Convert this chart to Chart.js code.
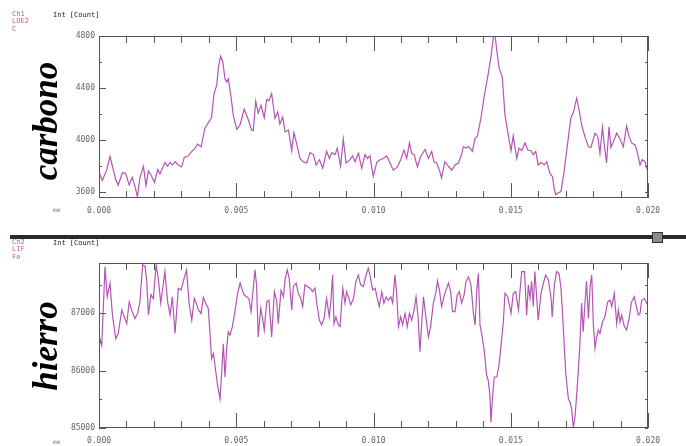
<!DOCTYPE html>
<html>
<head>
<meta charset="utf-8">
<script src="https://cdn.jsdelivr.net/npm/chart.js@4/dist/chart.umd.min.js"></script>
<style>
  body { margin: 0; background: #fff; }
  #wrap { position: relative; width: 686px; height: 446px; overflow: hidden; font-family: "DejaVu Sans Mono", monospace; }
  canvas { position: absolute; left: 0; }
  .ch { position: absolute; left: 12px; font-size: 7px; line-height: 7.4px; color: #c0589f; }
  .unit { position: absolute; left: 53px; font-size: 7px; color: #222; }
  .mm { position: absolute; left: 53px; font-size: 6px; color: #777; }
  .big { position: absolute; font-family: "Liberation Serif", serif; font-weight: bold; font-style: italic;
         font-size: 35px; line-height: 35px; white-space: nowrap; color: #000;
         transform: translate(-50%, -50%) rotate(-90deg); }
  #bar { position: absolute; left: 10px; top: 235px; width: 676px; height: 4px; background: #2a2a2a; }
  #knob { position: absolute; left: 652px; top: 232px; width: 9px; height: 9px; background: #8a8a8a; border: 1px solid #333; }
</style>
</head>
<body>
<div id="wrap">
  <canvas id="carbonChart" width="686" height="232" style="top:0"></canvas>
  <canvas id="hierroChart" width="686" height="206" style="top:240px"></canvas>

  <div class="ch" style="top:11px">Ch1<br>LOE2<br>C</div>
  <div class="unit" style="top:11px">Int [Count]</div>
  <div class="mm" style="top:206px">mm</div>
  <div class="big" style="left:45px; top:121px">carbono</div>

  <div id="bar"></div>
  <div id="knob"></div>

  <div class="ch" style="top:239px">Ch2<br>LIF<br>Fe</div>
  <div class="unit" style="top:239px">Int [Count]</div>
  <div class="mm" style="top:438px">mm</div>
  <div class="big" style="left:45px; top:346px">hierro</div>
</div>

<script>
// position along the scan in micrometres (axis shows mm)
const xTicks = [0, 5, 10, 15, 20];

const carbonPos = [0, 0.04, 0.12, 0.28, 0.40, 0.49, 0.61, 0.70, 0.85, 0.97, 1.10, 1.21, 1.31, 1.40, 1.49, 1.62, 1.71, 1.80, 1.89,
  2.02, 2.14, 2.22, 2.40, 2.50, 2.59, 2.68, 2.77, 2.89, 3.01, 3.11, 3.23, 3.38, 3.50, 3.59, 3.72, 3.86, 3.98, 4.10, 4.19,
  4.29, 4.35, 4.43, 4.51, 4.59, 4.65, 4.71, 4.81, 4.89, 5.02, 5.14, 5.29, 5.42, 5.56, 5.62, 5.71, 5.80, 5.90, 6.02, 6.11,
  6.19, 6.29, 6.41, 6.51, 6.59, 6.69, 6.78, 6.90, 7.02, 7.10, 7.20, 7.32, 7.44, 7.57, 7.69, 7.81, 7.91, 8.03, 8.15, 8.29,
  8.39, 8.48, 8.60, 8.68, 8.80, 8.90, 9.00, 9.12, 9.24, 9.33, 9.45, 9.57, 9.69, 9.78, 9.87, 9.99, 10.12, 10.24, 10.36,
  10.48, 10.60, 10.72, 10.87, 10.99, 11.11, 11.21, 11.31, 11.39, 11.48, 11.60, 11.72, 11.88, 12.00, 12.12, 12.20, 12.30,
  12.40, 12.48, 12.60, 12.73, 12.85, 12.97, 13.09, 13.21, 13.27, 13.37, 13.47, 13.60, 13.70, 13.79, 13.92, 14.04, 14.16,
  14.28, 14.37, 14.43, 14.49, 14.58, 14.69, 14.79, 14.91, 15.01, 15.09, 15.22, 15.30, 15.40, 15.52, 15.62, 15.74, 15.82,
  15.91, 16.00, 16.10, 16.22, 16.31, 16.43, 16.52, 16.59, 16.64, 16.73, 16.83, 16.95, 17.07, 17.19, 17.29, 17.40, 17.49,
  17.58, 17.70, 17.83, 17.92, 18.07, 18.17, 18.25, 18.34, 18.41, 18.49, 18.58, 18.65, 18.74, 18.86, 18.98, 19.10, 19.22,
  19.31, 19.40, 19.53, 19.62, 19.71, 19.79, 19.89, 19.99];
const carbonCount = [3740, 3730, 3685, 3765, 3870, 3795, 3690, 3650, 3745, 3740, 3650, 3710, 3640, 3560, 3705, 3795, 3645, 3760, 3730,
  3670, 3770, 3735, 3825, 3795, 3825, 3805, 3830, 3805, 3790, 3865, 3870, 3910, 3935, 3965, 3945, 4090, 4130, 4170, 4355,
  4420, 4560, 4645, 4600, 4470, 4445, 4470, 4330, 4190, 4080, 4115, 4235, 4165, 4075, 4070, 4295, 4205, 4265, 4170, 4310,
  4300, 4355, 4165, 4215, 4120, 4175, 4060, 4075, 3915, 4055, 3970, 3855, 3830, 3820, 3900, 3885, 3805, 3845, 3780, 3910,
  3855, 3900, 3885, 3935, 3795, 4005, 3820, 3840, 3875, 3830, 3895, 3780, 3885, 3855, 3875, 3715, 3825, 3845, 3855,
  3875, 3820, 3765, 3790, 3845, 3920, 3855, 3975, 3895, 3885, 3790, 3870, 3925, 3855, 3910, 3830, 3820,
  3765, 3705, 3830, 3795, 3765, 3805, 3820, 3885, 3945, 3935, 3947, 3910, 4010, 4030, 4175, 4345, 4485,
  4640, 4795, 4805, 4690, 4550, 4485, 4190, 4035, 3915, 4030, 3855, 3935, 3915, 3975, 3920, 3915, 3885,
  3910, 3805, 3825, 3805, 3830, 3740, 3715, 3615, 3575, 3590, 3600, 3765, 3970, 4170, 4215, 4320, 4230,
  4115, 4025, 3945, 3940, 4050, 4025, 3895, 4095, 3960, 3820, 4100, 3940, 3985, 4050, 4005, 3945, 4105,
  4025, 3975, 3960, 3895, 3805, 3845, 3830, 3755];
const carbonTicks = [3600, 4000, 4400, 4800];

const hierroPos = [0.00, 0.10, 0.22, 0.30, 0.40, 0.49, 0.61, 0.70, 0.83, 0.92, 1.01, 1.10, 1.21, 1.31, 1.41, 1.49, 1.59, 1.68, 1.74,
  1.80, 1.89, 1.98, 2.08, 2.16, 2.25, 2.34, 2.40, 2.50, 2.59, 2.67, 2.77, 2.89, 2.99, 3.07, 3.19, 3.28, 3.38, 3.47, 3.56,
  3.62, 3.72, 3.80, 3.90, 3.98, 4.04, 4.10, 4.17, 4.25, 4.32, 4.41, 4.47, 4.53, 4.59, 4.65, 4.71, 4.77, 4.86, 4.95, 5.05,
  5.14, 5.20, 5.29, 5.38, 5.46, 5.54, 5.62, 5.68, 5.74, 5.80, 5.89, 5.96, 6.02, 6.11, 6.19, 6.29, 6.39, 6.47, 6.53, 6.63,
  6.72, 6.78, 6.86, 6.93, 7.02, 7.08, 7.18, 7.26, 7.35, 7.42, 7.50, 7.59, 7.69, 7.78, 7.87, 7.95, 8.03, 8.11, 8.20, 8.29,
  8.39, 8.45, 8.51, 8.56, 8.63, 8.72, 8.78, 8.88, 8.96, 9.02, 9.08, 9.17, 9.27, 9.36, 9.45, 9.53, 9.63, 9.73, 9.81, 9.87,
  9.97, 10.06, 10.14, 10.21, 10.30, 10.38, 10.46, 10.54, 10.63, 10.70, 10.78, 10.84, 10.91, 10.99, 11.06, 11.15, 11.23,
  11.31, 11.39, 11.48, 11.55, 11.63, 11.69, 11.76, 11.82, 11.90, 12.00, 12.08, 12.18, 12.28, 12.33, 12.40, 12.48, 12.60,
  12.73, 12.81, 12.88, 12.97, 13.05, 13.13, 13.21, 13.30, 13.37, 13.46, 13.55, 13.64, 13.70, 13.76, 13.82, 13.88, 13.96,
  14.04, 14.12, 14.18, 14.24, 14.28, 14.34, 14.40, 14.49, 14.57, 14.67, 14.73, 14.79, 14.89, 14.95, 15.01, 15.09, 15.18,
  15.28, 15.34, 15.40, 15.50, 15.58, 15.64, 15.70, 15.76, 15.82, 15.88, 15.94, 16.00, 16.10, 16.19, 16.27, 16.37, 16.47,
  16.51, 16.59, 16.67, 16.76, 16.83, 16.88, 16.95, 17.01, 17.10, 17.16, 17.22, 17.28, 17.34, 17.40, 17.46, 17.52, 17.58,
  17.64, 17.70, 17.76, 17.83, 17.89, 17.95, 18.01, 18.07, 18.13, 18.19, 18.25, 18.34, 18.43, 18.53, 18.62, 18.68, 18.77,
  18.86, 18.92, 18.98, 19.04, 19.14, 19.22, 19.31, 19.40, 19.50, 19.59, 19.65, 19.71, 19.77, 19.87, 19.95, 20.00];
const hierroCount = [86620, 86440, 87820, 87290, 87530, 86970, 86560, 86650, 87060, 86940, 86820, 87200, 87030, 86910, 87000, 87200, 87850, 87820, 87560,
  86970, 87330, 87260, 87850, 87610, 87180, 87500, 87730, 87200, 86970, 87290, 86650, 87440, 87410, 87560, 87760, 87180, 86880, 87260, 87150,
  87060, 87000, 87280, 87160, 87090, 86680, 86210, 86300, 86000, 85740, 85510, 85980, 86470, 85890, 86390, 86680, 86620, 86770, 87030, 87350,
  87530, 87440, 87320, 87290, 87260, 87030, 87440, 87760, 87500, 86590, 87090, 86910, 86710, 87200, 87230, 86590, 87380, 87230, 86820, 87400,
  87290, 87600, 87760, 87610, 87060, 87470, 87530, 87350, 87260, 87120, 87500, 87470, 87440, 87380, 87440, 87120, 86880, 86800, 86910, 87260,
  86940, 87230, 87670, 86820, 86940, 86800, 86770, 87440, 87180, 87380, 87290, 87150, 87260, 87560, 87670, 87500, 87470, 87670, 87790, 87670,
  87410, 87440, 87260, 87120, 87380, 87180, 87290, 87230, 87290, 87180, 87670, 87380, 86770, 86940, 86800, 87000, 86770,
  87000, 86880, 87060, 87290, 86910, 86330, 86850, 87290, 86970, 86590, 86770, 87180, 87380, 87570, 87410, 87120, 87350,
  87530, 87380, 87030, 87030, 87320, 87380, 87180, 87320, 87560, 87640, 87500, 87000, 86800, 87380, 87700, 86800, 86590,
  86330, 85920, 85830, 85570, 85100, 85570, 85890, 85890, 86090, 86560, 86850, 87350, 87290, 87150, 87000, 87350, 87380,
  87060, 87410, 87730, 87730, 86970, 87500, 87260, 87560, 87120, 87730, 87320, 86880, 87350, 87530, 87670, 87590, 87260,
  86940, 87500, 87730, 87700, 87440, 87060, 86420, 85920, 85510, 85450, 85330, 85010, 85190, 85570, 85980, 86470, 87180,
  86680, 87150, 87560, 86910, 87470, 87670, 86800, 86390, 86590, 86710, 86650, 86850, 86940, 87200, 87230, 87120, 87350,
  86820, 87060, 86850, 86970, 86770, 86710, 86910, 87200, 87290, 87090, 86970, 87000, 87230, 87260, 87180, 87150];
const hierroTicks = [85000, 86000, 87000];

const lineColor = '#b455b4';
const axisColor = '#555';
const labelFont = { family: 'DejaVu Sans Mono', size: 8 };

// frame and inward tick marks, like the instrument plot
function framePlugin(minorStep, majorTicks) {
    return {
        id: 'frame',
        afterDraw(chart) {
            const ctx = chart.ctx;
            const a = chart.chartArea;
            const xs = chart.scales.x;
            const ys = chart.scales.y;
            ctx.save();
            ctx.strokeStyle = axisColor;
            ctx.lineWidth = 1;
            ctx.strokeRect(a.left + 0.5, a.top + 0.5, a.right - a.left - 1, a.bottom - a.top - 1);
            ctx.beginPath();
            for (let i = xs.min; i <= xs.max; i++) {
                const px = Math.round(xs.getPixelForValue(i)) + 0.5;
                const len = i % 5 === 0 ? 15 : 7;
                ctx.moveTo(px, a.top); ctx.lineTo(px, a.top + len);
                ctx.moveTo(px, a.bottom); ctx.lineTo(px, a.bottom - len);
            }
            for (let v = majorTicks[0]; v <= ys.max; v += minorStep) {
                const py = Math.round(ys.getPixelForValue(v)) + 0.5;
                const len = majorTicks.includes(v) ? 7 : 3;
                ctx.moveTo(a.left, py); ctx.lineTo(a.left + len, py);
                ctx.moveTo(a.right, py); ctx.lineTo(a.right - 3, py);
            }
            ctx.stroke();
            ctx.restore();
        }
    };
}

function makeChart(id, pos, counts, yMin, yMax, yTicks, minorStep, padTop, xHeight, xPad) {
    new Chart(document.getElementById(id), {
        type: 'line',
        data: {
            datasets: [{
                data: pos.map((x, i) => ({ x: x, y: counts[i] })),
                borderColor: lineColor,
                borderWidth: 1.2,
                pointRadius: 0,
                tension: 0
            }]
        },
        options: {
            responsive: false,
            animation: false,
            layout: { padding: { top: padTop, right: 38, left: 0, bottom: 0 } },
            plugins: { legend: { display: false }, tooltip: { enabled: false } },
            scales: {
                x: {
                    type: 'linear',
                    min: 0,
                    max: 20,
                    grid: { display: false, drawTicks: false },
                    border: { display: false },
                    afterBuildTicks: s => { s.ticks = xTicks.map(v => ({ value: v })); },
                    afterFit: s => { s.height = xHeight; },
                    ticks: {
                        padding: xPad,
                        maxRotation: 0,
                        color: '#666',
                        font: labelFont,
                        callback: v => (v / 1000).toFixed(3)
                    }
                },
                y: {
                    min: yMin,
                    max: yMax,
                    grid: { display: false, drawTicks: false },
                    border: { display: false },
                    afterBuildTicks: s => { s.ticks = yTicks.map(v => ({ value: v })); },
                    afterFit: s => { s.width = 99; },
                    ticks: {
                        padding: 4,
                        color: '#666',
                        font: labelFont,
                        callback: v => String(v)
                    }
                }
            }
        },
        plugins: [framePlugin(minorStep, yTicks)]
    });
}

makeChart('carbonChart', carbonPos, carbonCount, 3550, 4800, carbonTicks, 200, 36, 34, 8);
makeChart('hierroChart', hierroPos, hierroCount, 85000, 87880, hierroTicks, 500, 23, 18, 8);
</script>
</body>
</html>
